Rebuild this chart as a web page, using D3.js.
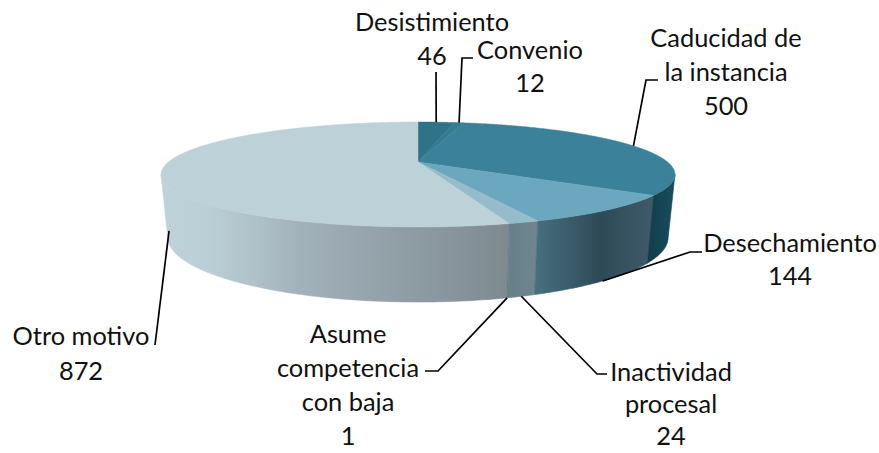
<!DOCTYPE html>
<html lang="es">
<head>
    <meta charset="utf-8" />
    <script src="https://d3js.org/d3.v7.min.js"></script>
    <title>Motivos</title>
    <style>
        html, body { margin: 0; padding: 0; background: #fff; }
        svg { display: block; }
        text { font-family: Lato, "Open Sans", sans-serif; font-size: 25.4px; fill: #111; text-anchor: middle; }
    </style>
</head>
<body>
    <div id="container"></div>
    <script>
        const categories = ["Desistimiento", "Convenio", "Caducidad de la instancia", "Desechamiento", "Inactividad procesal", "Asume competencia con baja", "Otro motivo"];
        const values = [46, 12, 500, 144, 24, 1, 872];
        const topColors = ["#2f7386", "#347b90", "#3a8199", "#6ba8c0", "#96bccb", "#96bccb", "#bdd1d9"];

        const w = 879;
        const h = 453;

        // wrapped label text and where each block sits
        const labelLines = [
            ["Desistimiento", "46"],
            ["Convenio", "12"],
            ["Caducidad de", "la instancia", "500"],
            ["Desechamiento", "144"],
            ["Inactividad", "procesal", "24"],
            ["Asume", "competencia", "con baja", "1"],
            ["Otro motivo", "872"]
        ];
        const labelPos = [[432, 31], [530, 59], [726, 47], [790, 252], [671, 381], [348, 343], [81, 345]];
        const lineStep = [33.5, 33, 34, 33, 32, 34, 35];
        const leaderElbows = [
            [[436, 72]],
            [[462, 58], [473, 58]],
            [[646, 80], [658, 80]],
            [[690, 252], [702, 252]],
            [[597, 374], [607, 374]],
            [[438, 371], [425, 371]],
            [[155, 345]]
        ];

        // side shading, one gradient per slice
        const sideStops = [
            [[0, "#1f5566"], [1, "#1f5566"]],
            [[0, "#1f5566"], [1, "#1f5566"]],
            [[0, "#103e4a"], [1, "#1a4d5c"]],
            [[0, "#47707f"], [0.55, "#2f4a57"], [1, "#3f5b69"]],
            [[0, "#66808a"], [1, "#71858d"]],
            [[0, "#66808a"], [1, "#66808a"]],
            [[0, "#bed2da"], [0.14, "#bbcfd7"], [0.39, "#a3b3bb"], [0.69, "#909ea6"], [1, "#7e8a90"]]
        ];

        // perspective disc: angle -> screen point
        const CX = 418;
        const K = 0.238;
        const topDisc = { a: 249.6, y0: 162, b: 49.5 };
        const baseDisc = { a: 243, y0: 222, b: 61 };
        function project(disc, ang) {
            const u = Math.sin(ang), v = -Math.cos(ang), d = 1 - K * v;
            return [CX + disc.a * u / d, disc.y0 + disc.b * v / d];
        }
        function arcPoints(disc, a0, a1) {
            const n = Math.max(2, Math.ceil((a1 - a0) / 0.01));
            return d3.range(n + 1).map(i => project(disc, a0 + (a1 - a0) * i / n));
        }

        const arcs = d3.pie().sort(null)(values);
        const line = d3.line();

        const svg = d3.select("#container").append("svg").attr("width", w).attr("height", h);
        const defs = svg.append("defs");

        // the wall only shows between the two tangent points of the disc
        const tangent = Math.acos(-K);
        const sideData = arcs.map((d, i) => {
            const a0 = Math.max(d.startAngle, tangent);
            const a1 = Math.min(d.endAngle, 2 * Math.PI - tangent);
            return { i, a0, a1 };
        }).filter(d => d.a1 > d.a0);

        sideData.forEach(d => {
            const upper = arcPoints(topDisc, d.a0, d.a1);
            const lower = arcPoints(baseDisc, d.a0, d.a1);
            const [x0, x1] = d3.extent(upper.concat(lower), p => p[0]);
            d.pts = upper.concat(lower.reverse());
            const grad = defs.append("linearGradient")
                .attr("id", "side" + d.i)
                .attr("gradientUnits", "userSpaceOnUse")
                .attr("x1", x0).attr("x2", x1).attr("y1", 0).attr("y2", 0);
            grad.selectAll("stop").data(sideStops[d.i]).enter().append("stop")
                .attr("offset", s => s[0]).attr("stop-color", s => s[1]);
        });

        svg.append("g").selectAll("path")
            .data(sideData.slice().sort((a, b) => b.i - a.i))
            .enter().append("path")
            .attr("d", d => line(d.pts) + "Z")
            .attr("fill", d => "url(#side" + d.i + ")")
            .attr("stroke", d => "url(#side" + d.i + ")")
            .attr("stroke-width", 0.6);

        svg.append("g").selectAll("path")
            .data(arcs)
            .enter().append("path")
            .attr("d", d => line([[CX, topDisc.y0]].concat(arcPoints(topDisc, d.startAngle, d.endAngle))) + "Z")
            .attr("fill", (d, i) => topColors[i])
            .attr("stroke", (d, i) => topColors[i])
            .attr("stroke-width", 0.5);

        // leaders start on the top rim for back slices, on the base rim for front ones
        const leaders = arcs.map((d, i) => {
            const mid = (d.startAngle + d.endAngle) / 2;
            const front = mid > Math.PI / 2;
            return [project(front ? baseDisc : topDisc, mid)].concat(leaderElbows[i]);
        });
        svg.append("g").selectAll("path")
            .data(leaders)
            .enter().append("path")
            .attr("d", d => line(d))
            .attr("fill", "none")
            .attr("stroke", "#000")
            .attr("stroke-width", 1.7);

        const labels = svg.append("g").selectAll("text")
            .data(labelLines)
            .enter().append("text")
            .attr("transform", (d, i) => "translate(" + labelPos[i] + ")");
        labels.selectAll("tspan")
            .data((d, i) => d.map((t, j) => ({ t, j, step: lineStep[i] })))
            .enter().append("tspan")
            .attr("x", 0)
            .attr("y", d => d.j * d.step)
            .text(d => d.t);
    </script>
</body>
</html>
